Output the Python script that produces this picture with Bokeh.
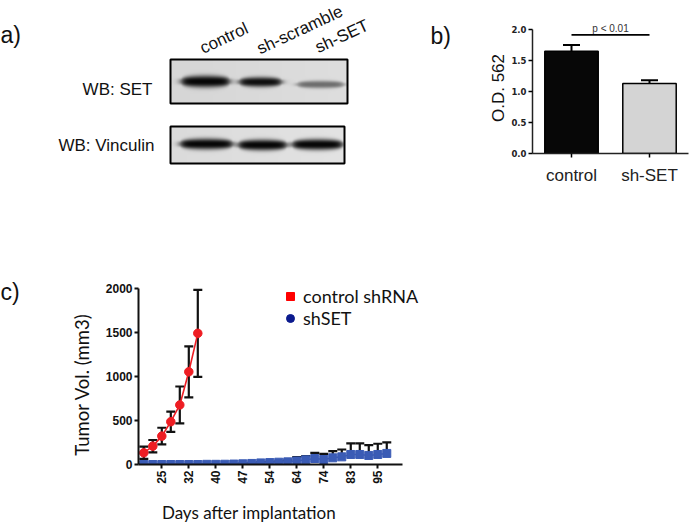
import math
import numpy as np
from bokeh.plotting import figure
from bokeh.models import (Range1d, FactorRange, Label, Legend, LegendItem, Whisker,
                          TeeHead, ColumnDataSource, FixedTicker, PrintfTickFormatter)
from bokeh.layouts import column, row
from bokeh.embed import file_html
from bokeh.resources import INLINE
from bokeh.core.properties import value

# ---------------- data ----------------
lanes = ["control", "sh-scramble", "sh-SET"]
blot_rows = ["WB: SET", "WB: Vinculin"]
set_band = [0.97, 0.93, 0.50]
vinculin_band = [0.97, 0.97, 0.97]

bar_groups = ["control", "sh-SET"]
od_mean = [1.655, 1.134]
od_err = [0.10, 0.05]
p_text = "p < 0.01"

tick_index = [2, 5, 8, 11, 14, 17, 20, 23, 26]
tick_days = ["25", "32", "40", "47", "54", "64", "74", "83", "95"]
ctrl_vol = [133, 209, 323, 487, 678, 1055, 1493]
ctrl_err = [70, 70, 95, 115, 210, 290, 495]
shset_vol = [0, 0, 0, 0, 0, 0, 0, 2, 2, 3, 5, 8, 12, 18, 22, 26, 30, 40, 53, 68,
             57, 76, 87, 114, 114, 103, 114, 126]
shset_err = [0, 0, 0, 0, 0, 0, 0, 1, 1, 2, 3, 4, 6, 8, 9, 10, 16, 43, 42, 65,
             65, 76, 84, 126, 126, 118, 122, 125]
legend_labels = ["control shRNA", "shSET"]

ARIAL = value("Liberation Sans")
LATO = value("Lato")
INK = "#111111"


def text_panel(w, h):
    p = figure(width=w, height=h, x_range=Range1d(0, w), y_range=Range1d(0, h),
               x_axis_location=None, y_axis_location=None,
               output_backend="svg", toolbar_location=None, min_border=0)
    p.grid.visible = False
    p.outline_line_color = None
    return p


# ---------------- panel a: western blot (plus "b)" tag) ----------------
W1, H1 = 478, 200
p1 = text_panel(W1, H1)


def blot(p, intens, centers, halfw, ycs, sigs, x0, x1, y0, y1, bgv):
    nx, ny = int(round(x1 - x0)), int(round(y1 - y0))
    xs = x0 + np.arange(nx) + 0.5
    ys = y0 + np.arange(ny) + 0.5
    X, Y = np.meshgrid(xs, ys)
    keep = np.ones_like(X)
    for I, c, hw, yc, s in zip(intens, centers, halfw, ycs, sigs):
        u = (X - c) / hw
        horiz = 1.0 / (1.0 + np.exp((np.abs(X - c) - hw) / 2.2))
        thick = s * (0.5 + 0.5 * np.sqrt(np.clip(1 - u ** 2, 0, 1)))
        vert = np.exp(-np.abs((Y - yc) / np.maximum(thick, 0.6)) ** 2.6)
        keep *= (1 - I * horiz * vert)
    bg = bgv + 0.03 * (X - x0) / (x1 - x0)
    g = np.clip(bg * keep, 0, 1)
    img = np.empty((ny, nx), dtype=np.uint32)
    v = img.view(dtype=np.uint8).reshape((ny, nx, 4))
    gg = (g * 255).astype(np.uint8)
    v[..., 0] = gg
    v[..., 1] = gg
    v[..., 2] = gg
    v[..., 3] = 255
    p.image_rgba(image=[img], x=x0, y=y0, dw=nx, dh=ny)
    p.quad(left=x0, right=x1, bottom=y0, top=y1, fill_color=None,
           line_color="black", line_width=2)


blot(p1, set_band, [205, 260, 320], [24, 21, 23], [119, 118.5, 116], [6.0, 5.0, 3.8],
     170, 347, 97, 141, 0.84)
blot(p1, vinculin_band, [206, 262, 317], [26, 24, 25], [56.5, 55.5, 56], [5.5, 5.5, 5.5],
     170, 344, 37, 74, 0.86)

p1.text(x=[152, 154], y=[111.5, 55], text=blot_rows, text_font=ARIAL,
        text_font_size="17px", text_align="right", text_baseline="middle",
        text_color=INK)
p1.text(x=[200.4, 257.4, 315.7], y=[151.5, 151.0, 152.2], text=lanes,
        angle=math.radians(25), text_font=ARIAL, text_font_size="17px",
        text_align="left", text_baseline="middle", text_color=INK)
p1.text(x=[0, 430], y=[165.5, 164.5], text=["a)", "b)"], text_font=ARIAL,
        text_font_size="23px", text_baseline="middle", text_color=INK)

# ---------------- panel b: bar chart ----------------
p2 = figure(width=219, height=200, x_range=FactorRange(*bar_groups),
            y_range=Range1d(0, 2.12), output_backend="svg", toolbar_location=None,
            min_border_left=54, min_border_right=9, min_border_top=22,
            min_border_bottom=47)
p2.grid.visible = False
p2.outline_line_color = None
src2 = ColumnDataSource(dict(x=bar_groups, top=od_mean,
                             upper=[m + e for m, e in zip(od_mean, od_err)],
                             color=["#070707", "#d4d4d4"]))
p2.vbar(x="x", top="top", width=0.685, source=src2, fill_color="color",
        line_color="black", line_width=1.5)
p2.add_layout(Whisker(source=src2, base="x", upper="upper", lower="top",
                      upper_head=TeeHead(size=17, line_width=2, line_color="black"),
                      lower_head=None, line_width=2, line_color="black"))
p2.segment(x0=[bar_groups[0]], x1=[bar_groups[1]], y0=[1.92], y1=[1.92],
           line_color="black", line_width=1.8)
p2.add_layout(Label(x=1.0, y=1.935, text=p_text, text_align="center",
                    text_baseline="bottom", text_font="Liberation Sans",
                    text_font_size="10px", text_color="#333333"))
p2.yaxis.ticker = FixedTicker(ticks=[0, 0.5, 1.0, 1.5, 2.0])
p2.yaxis.bounds = (0, 2.0)
p2.yaxis.formatter = PrintfTickFormatter(format="%.1f")
p2.yaxis.major_label_text_font = "DejaVu Sans"
p2.yaxis.major_label_text_font_style = "bold"
p2.yaxis.major_label_text_font_size = "8.5px"
p2.yaxis.major_label_standoff = 2
p2.yaxis.axis_label = "O.D. 562"
p2.yaxis.axis_label_text_font = "Liberation Sans"
p2.yaxis.axis_label_text_font_style = "normal"
p2.yaxis.axis_label_text_font_size = "17px"
p2.yaxis.axis_label_text_color = INK
p2.yaxis.axis_label_standoff = 0
p2.xaxis.major_label_text_font = "Liberation Sans"
p2.xaxis.major_label_text_font_size = "17px"
p2.xaxis.major_label_standoff = 8
for ax in (p2.xaxis, p2.yaxis):
    ax.minor_tick_line_color = None
    ax.major_tick_in = 0
    ax.major_tick_out = 4
    ax.axis_line_width = 1.5
    ax.major_tick_line_width = 1.5
    ax.axis_line_color = "#222222"
    ax.major_label_text_color = "#222222"

# ---------------- panel c: tumour growth ----------------
pL = text_panel(100, 324)
pL.text(x=[0], y=[233], text=["c)"], text_font=ARIAL, text_font_size="23px",
        text_baseline="middle", text_color=INK)
pL.text(x=[81.7], y=[140], text=["Tumor Vol. (mm3)"], angle=math.pi / 2,
        text_font=LATO, text_font_size="18.5px", text_align="center",
        text_baseline="middle", text_color=INK)

p3 = figure(width=330, height=297, x_range=Range1d(-0.59, 31.86),
            y_range=Range1d(0, 2060), output_backend="svg", toolbar_location=None,
            min_border_left=38, min_border_right=0, min_border_top=83,
            min_border_bottom=33)
p3.grid.visible = False
p3.outline_line_color = None

xi_c = list(range(len(ctrl_vol)))
xi_s = list(range(len(shset_vol)))
src_c = ColumnDataSource(dict(x=xi_c, y=ctrl_vol,
                              lo=[v - e for v, e in zip(ctrl_vol, ctrl_err)],
                              hi=[v + e for v, e in zip(ctrl_vol, ctrl_err)]))
src_s = ColumnDataSource(dict(x=xi_s, y=shset_vol,
                              hi=[v + e for v, e in zip(shset_vol, shset_err)]))

p3.add_layout(Whisker(source=src_s, base="x", upper="hi", lower="y",
                      upper_head=TeeHead(size=9, line_width=2.2, line_color=INK),
                      lower_head=None, line_width=2.2, line_color=INK))
p3.add_layout(Whisker(source=src_c, base="x", upper="hi", lower="lo",
                      upper_head=TeeHead(size=9, line_width=2.2, line_color=INK),
                      lower_head=TeeHead(size=9, line_width=2.2, line_color=INK),
                      line_width=2.2, line_color=INK))
p3.line("x", "y", source=src_s, line_color="#3a5bb5", line_width=1.5)
p3.scatter("x", "y", source=src_s, marker="square", size=8, fill_color="#3a5bb5",
           line_color="#3a5bb5")
p3.line("x", "y", source=src_c, line_color="#ee1d23", line_width=1.6)
p3.scatter("x", "y", source=src_c, marker="circle", size=8.5, fill_color="#ee1d23",
           line_color="#ee1d23")

p3.xaxis.ticker = FixedTicker(ticks=tick_index)
p3.xaxis.bounds = (-0.59, 28.74)
p3.xaxis.major_label_overrides = {i: d for i, d in zip(tick_index, tick_days)}
p3.xaxis.major_label_orientation = math.pi / 2
p3.yaxis.ticker = FixedTicker(ticks=[0, 500, 1000, 1500, 2000])
p3.yaxis.bounds = (0, 2000)
for ax in (p3.xaxis, p3.yaxis):
    ax.minor_tick_line_color = None
    ax.major_tick_in = 0
    ax.major_tick_out = 4
    ax.axis_line_width = 2
    ax.major_tick_line_width = 2
    ax.axis_line_color = INK
    ax.major_tick_line_color = INK
    ax.major_label_text_font = "Liberation Sans"
    ax.major_label_text_font_style = "bold"
    ax.major_label_text_font_size = "12px"
    ax.major_label_text_color = INK
    ax.major_label_standoff = 2

nan = float("nan")
leg_r1 = p3.scatter(x=[nan], y=[nan], marker="square", size=8,
                    fill_color="#ff0000", line_color="#ff0000")
leg_r2 = p3.scatter(x=[nan], y=[nan], marker="circle", size=8,
                    fill_color="#0b1a8e", line_color="#0b1a8e")
legend = Legend(items=[LegendItem(label=legend_labels[0], renderers=[leg_r1]),
                       LegendItem(label=legend_labels[1], renderers=[leg_r2])],
                location=(142, 135), glyph_width=20, glyph_height=20,
                label_standoff=3, spacing=-2, padding=0, margin=0,
                border_line_color=None, background_fill_alpha=0,
                label_text_font="Lato", label_text_font_size="18px",
                label_text_color=INK)
p3.add_layout(legend)

pB = text_panel(330, 27)
pB.text(x=[148.5], y=[12.5], text=["Days after implantation"], text_font=LATO,
        text_font_size="17px", text_align="center", text_baseline="middle",
        text_color=INK)

top = row(column(p1), column(p2))
bottom = row(column(pL), column(row(p3), row(pB)))
layout = column(top, bottom)
open("out.html", "w").write(file_html(layout, INLINE))
